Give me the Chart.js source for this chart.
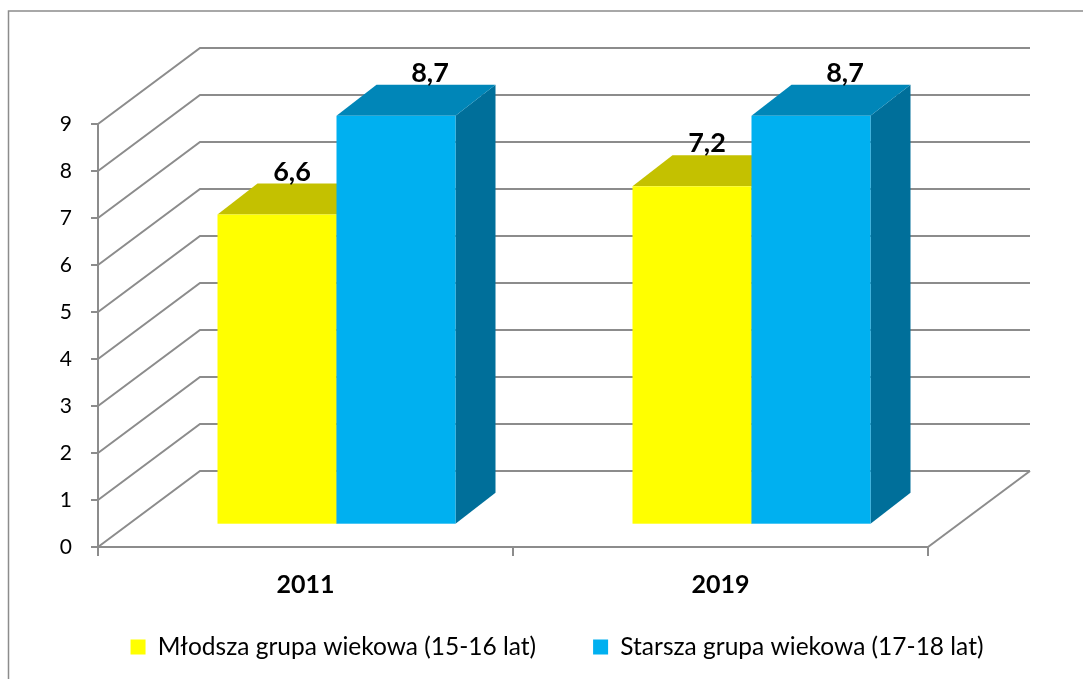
<!DOCTYPE html>
<html>
<head>
<meta charset="utf-8">
<script src="https://cdn.jsdelivr.net/npm/chart.js@4.4.0/dist/chart.umd.min.js"></script>
<style>
html,body{margin:0;padding:0;background:#fff;}
#wrap{width:1083px;height:679px;position:relative;}
</style>
</head>
<body>
<div id="wrap"><canvas id="c" width="1083" height="679"></canvas></div>
<script>
// ---- data ----
const categories = ['2011', '2019'];
const youngerGroup = [6.6, 7.2];
const olderGroup = [8.7, 8.7];
const seriesNames = ['Młodsza grupa wiekowa (15-16 lat)', 'Starsza grupa wiekowa (17-18 lat)'];
const yMin = 0;
const yMax = 9;
const yStep = 1;

// ---- styles ----
const FONT = "Lato, 'Liberation Sans', sans-serif";
const FRONT = ['#FFFF00', '#00B0F0'];
const TOP = ['#C4C100', '#0086B8'];
const SIDE = ['#9C9A00', '#006F9A'];
const GRID = '#8C8C8C';
const DEPTH = {dx: 102, dy: -76};
const BAR_OFF = {dx: 31, dy: -22.3};
const BAR_DEPTH = {dx: 40, dy: -31};
const LABEL_SHIFT = [15, 34];
const LEGEND_FONT = 24.5;
const LEGEND_PAD = 57;
const LEGEND_TOP = 647 - LEGEND_PAD - LEGEND_FONT / 2;

function fmt(v) { return String(v).replace('.', ','); }

const frame3d = {
  id: 'frame3d',
  afterLayout(chart) {
    const lg = chart.legend;
    if (lg) {
      lg.top = LEGEND_TOP;
      lg.bottom = chart.height;
      lg.height = lg.bottom - lg.top;
    }
  },
  beforeDraw(chart) {
    const ctx = chart.ctx;
    ctx.save();
    ctx.fillStyle = '#fff';
    ctx.fillRect(0, 0, chart.width, chart.height);
    ctx.strokeStyle = '#8C8C8C';
    ctx.lineWidth = 1.5;
    ctx.strokeRect(8.5, 11, chart.width + 20, chart.height + 20);
    ctx.restore();
  },
  beforeDatasetsDraw(chart) {
    const ctx = chart.ctx;
    const a = chart.chartArea;
    const ys = chart.scales.y;
    ctx.save();
    ctx.strokeStyle = GRID;
    ctx.lineWidth = 2;
    ctx.lineJoin = 'miter';
    ys.ticks.forEach(t => {
      const py = ys.getPixelForValue(t.value);
      ctx.beginPath();
      ctx.moveTo(a.left, py);
      ctx.lineTo(a.left + DEPTH.dx, py + DEPTH.dy);
      ctx.lineTo(a.right + DEPTH.dx, py + DEPTH.dy);
      ctx.stroke();
    });
    ctx.beginPath();
    ctx.moveTo(a.right, a.bottom);
    ctx.lineTo(a.right + DEPTH.dx, a.bottom + DEPTH.dy);
    ctx.stroke();

    const metas = chart.data.datasets.map((d, i) => chart.getDatasetMeta(i));
    const labels = [];
    categories.forEach((c, ci) => {
      metas.forEach((meta, di) => {
        const el = meta.data[ci];
        const p = el.getProps(['x', 'y', 'base', 'width'], true);
        const x1 = p.x - p.width / 2 + BAR_OFF.dx;
        const x2 = p.x + p.width / 2 + BAR_OFF.dx;
        const yt = p.y + BAR_OFF.dy;
        const yb = p.base + BAR_OFF.dy;
        ctx.fillStyle = SIDE[di];
        ctx.beginPath();
        ctx.moveTo(x2, yt);
        ctx.lineTo(x2 + BAR_DEPTH.dx, yt + BAR_DEPTH.dy);
        ctx.lineTo(x2 + BAR_DEPTH.dx, yb + BAR_DEPTH.dy);
        ctx.lineTo(x2, yb);
        ctx.closePath();
        ctx.fill();
        ctx.fillStyle = TOP[di];
        ctx.beginPath();
        ctx.moveTo(x1, yt);
        ctx.lineTo(x2, yt);
        ctx.lineTo(x2 + BAR_DEPTH.dx, yt + BAR_DEPTH.dy);
        ctx.lineTo(x1 + BAR_DEPTH.dx, yt + BAR_DEPTH.dy);
        ctx.closePath();
        ctx.fill();
        ctx.fillStyle = FRONT[di];
        ctx.fillRect(x1, yt, x2 - x1, yb - yt);
        const v = chart.data.datasets[di].data[ci];
        labels.push({x: (x1 + x2) / 2 + LABEL_SHIFT[di], y: yt + BAR_DEPTH.dy - 3, t: fmt(v)});
      });
    });
    ctx.fillStyle = '#000';
    ctx.font = "bold 27px " + FONT;
    ctx.textAlign = 'center';
    ctx.textBaseline = 'alphabetic';
    labels.forEach(l => ctx.fillText(l.t, l.x, l.y));
    ctx.restore();
    return false;
  }
};

new Chart(document.getElementById('c'), {
  type: 'bar',
  data: {
    labels: categories,
    datasets: [
      {label: seriesNames[0], data: youngerGroup, backgroundColor: FRONT[0], borderWidth: 0},
      {label: seriesNames[1], data: olderGroup, backgroundColor: FRONT[1], borderWidth: 0}
    ]
  },
  options: {
    responsive: false,
    animation: false,
    devicePixelRatio: 1,
    layout: {padding: {left: 31, right: 0, top: 124, bottom: 0}},
    datasets: {bar: {categoryPercentage: 0.5735, barPercentage: 1}},
    plugins: {
      legend: {
        position: 'bottom',
        maxHeight: 1,
        labels: {font: {family: FONT, size: LEGEND_FONT}, color: '#000', boxWidth: 15, boxHeight: 15, padding: LEGEND_PAD}
      },
      tooltip: {enabled: false}
    },
    scales: {
      x: {
        grid: {display: true, drawOnChartArea: false, drawTicks: true, tickLength: 9, color: GRID, lineWidth: 2, offset: true},
        border: {display: true, color: GRID, width: 2},
        ticks: {font: {family: FONT, size: 25, weight: 'bold'}, color: '#000', padding: 14},
        afterFit(s) { s.height = 131; }
      },
      y: {
        min: yMin, max: yMax,
        ticks: {stepSize: yStep, font: {family: FONT, size: 21}, color: '#000', padding: 19},
        grid: {drawOnChartArea: false, drawTicks: true, tickLength: 7, color: GRID, lineWidth: 2},
        border: {display: true, color: GRID, width: 2},
        afterFit(s) { s.width = 67; }
      },
      yRight: {
        type: 'linear', position: 'right', display: true,
        grid: {display: false}, ticks: {display: false}, border: {display: false},
        afterFit(s) { s.width = 155; }
      }
    }
  },
  plugins: [frame3d]
});
</script>
</body>
</html>
